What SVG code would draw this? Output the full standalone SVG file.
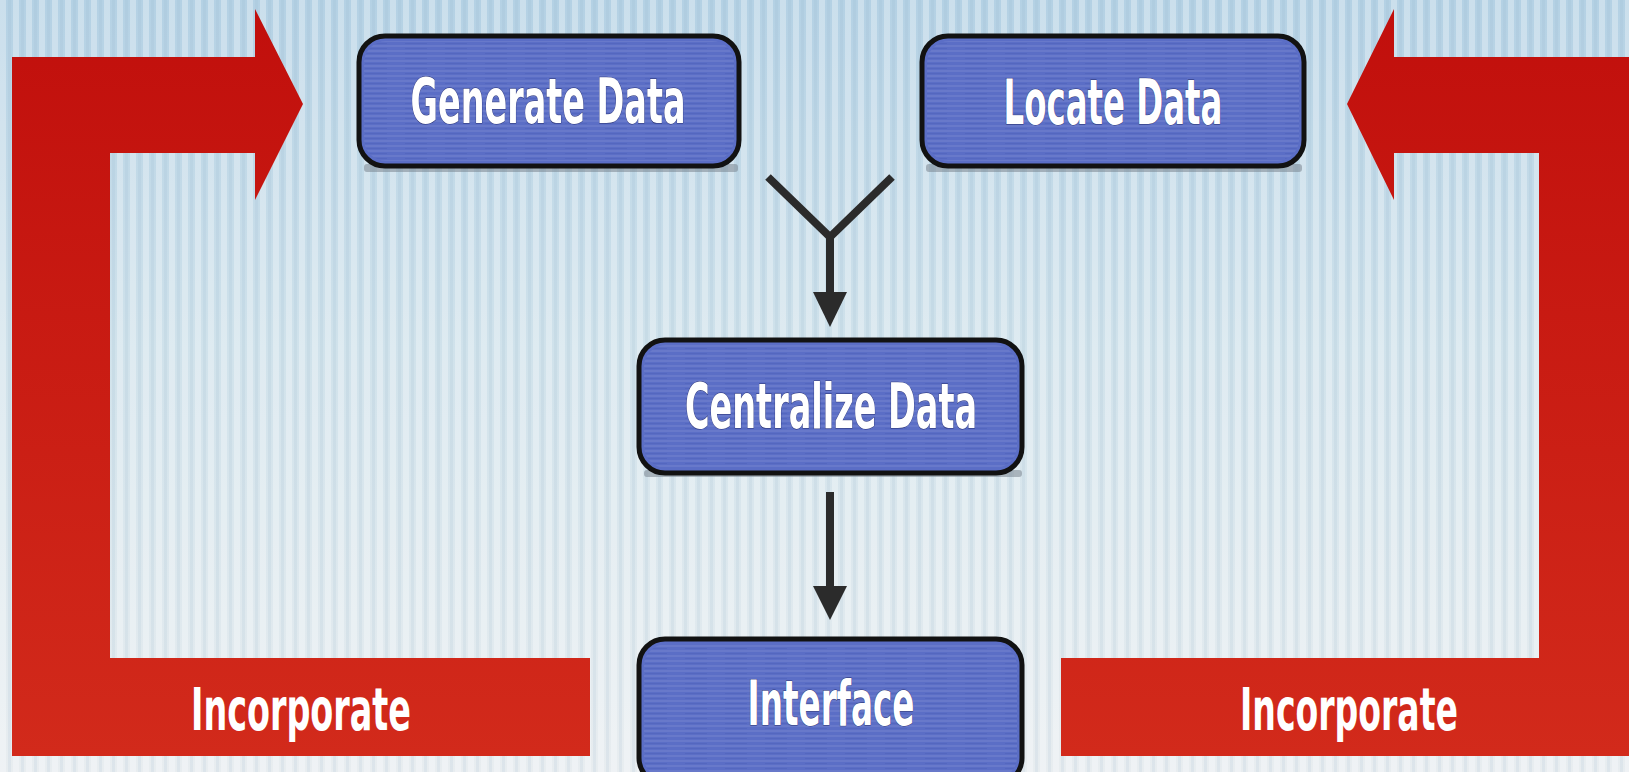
<svg xmlns="http://www.w3.org/2000/svg" width="1629" height="772" viewBox="0 0 1629 772">
  <defs>
    <linearGradient id="bg" x1="0" y1="0" x2="0" y2="1">
      <stop offset="0" stop-color="#b4d1e4"/>
      <stop offset="0.45" stop-color="#d0e2eb"/>
      <stop offset="1" stop-color="#e8edf0"/>
    </linearGradient>
    <pattern id="stripes" width="13" height="772" patternUnits="userSpaceOnUse">
      <rect x="0" y="0" width="6" height="772" fill="#ffffff" opacity="0.30"/>
      <rect x="8" y="0" width="3" height="772" fill="#8fb3cc" opacity="0.12"/>
    </pattern>
    <linearGradient id="red" x1="0" y1="0" x2="0" y2="1">
      <stop offset="0" stop-color="#c10f0c"/>
      <stop offset="1" stop-color="#d22a1b"/>
    </linearGradient>
    <pattern id="hlines" width="40" height="5" patternUnits="userSpaceOnUse">
      <rect x="0" y="0" width="40" height="2" fill="#ffffff" opacity="0.08"/>
      <rect x="5" y="3" width="22" height="1" fill="#2c3e9a" opacity="0.15"/>
    </pattern>
  </defs>
  <style>
    .node rect.box { fill: #5b6ec6; stroke: #121212; stroke-width: 5; }
    .node rect.tex { fill: url(#hlines); }
    .node rect.shadow { fill: #7a8590; opacity: 0.55; }
    .label { font-family: "Liberation Sans Narrow", "DejaVu Sans Condensed", "Liberation Sans", sans-serif; font-weight: bold; fill: #ffffff; text-anchor: middle; }
    .box-label { font-size: 62px; stroke: #2a3270; stroke-width: 1; paint-order: stroke; }
    .red-label { font-size: 58px; }
    .conn line { stroke: #2b2b2b; stroke-width: 8; }
    .conn polygon { fill: #2b2b2b; }
    .redarrow { fill: url(#red); }
  </style>

  <rect x="0" y="0" width="1629" height="772" fill="url(#bg)"/>
  <rect x="0" y="0" width="1629" height="772" fill="url(#stripes)"/>

  <g id="incorporate-left">
    <path class="redarrow" d="M12,57 H255 V9 L303,104 L255,200 V153 H110 V658 H590 V756 H12 Z"/>
    <text class="label red-label" x="301" y="730" textLength="220" lengthAdjust="spacingAndGlyphs">Incorporate</text>
  </g>

  <g id="incorporate-right">
    <path class="redarrow" d="M1629,57 H1394 V9 L1347,104 L1394,200 V153 H1539 V658 H1061 V756 H1629 Z"/>
    <text class="label red-label" x="1349" y="730" textLength="218" lengthAdjust="spacingAndGlyphs">Incorporate</text>
  </g>

  <g id="connectors" class="conn">
    <line x1="768" y1="177" x2="831" y2="238"/>
    <line x1="892" y1="177" x2="829" y2="238"/>
    <line x1="830" y1="232" x2="830" y2="296"/>
    <polygon points="813,292 847,292 830,327"/>
    <line x1="830" y1="492" x2="830" y2="590"/>
    <polygon points="813,586 847,586 830,620"/>
  </g>

  <g id="generate-data" class="node">
    <rect class="shadow" x="364" y="164" width="374" height="8" rx="3"/>
    <rect class="box" x="359" y="36" width="380" height="130" rx="26"/>
    <rect class="tex" x="364" y="41" width="370" height="120" rx="22"/>
    <text class="label box-label" x="548" y="123" textLength="275" lengthAdjust="spacingAndGlyphs">Generate Data</text>
  </g>

  <g id="locate-data" class="node">
    <rect class="shadow" x="926" y="164" width="376" height="8" rx="3"/>
    <rect class="box" x="922" y="36" width="382" height="130" rx="26"/>
    <rect class="tex" x="927" y="41" width="372" height="120" rx="22"/>
    <text class="label box-label" x="1113" y="124" textLength="219" lengthAdjust="spacingAndGlyphs">Locate Data</text>
  </g>

  <g id="centralize-data" class="node">
    <rect class="shadow" x="644" y="470" width="378" height="7" rx="3"/>
    <rect class="box" x="639" y="340" width="383" height="133" rx="26"/>
    <rect class="tex" x="644" y="345" width="373" height="123" rx="22"/>
    <text class="label box-label" x="831" y="428" textLength="292" lengthAdjust="spacingAndGlyphs">Centralize Data</text>
  </g>

  <g id="interface" class="node">
    <rect class="box" x="639" y="639" width="383" height="145" rx="26"/>
    <rect class="tex" x="644" y="644" width="373" height="135" rx="22"/>
    <text class="label box-label" x="831" y="725" textLength="167" lengthAdjust="spacingAndGlyphs">Interface</text>
  </g>
</svg>
